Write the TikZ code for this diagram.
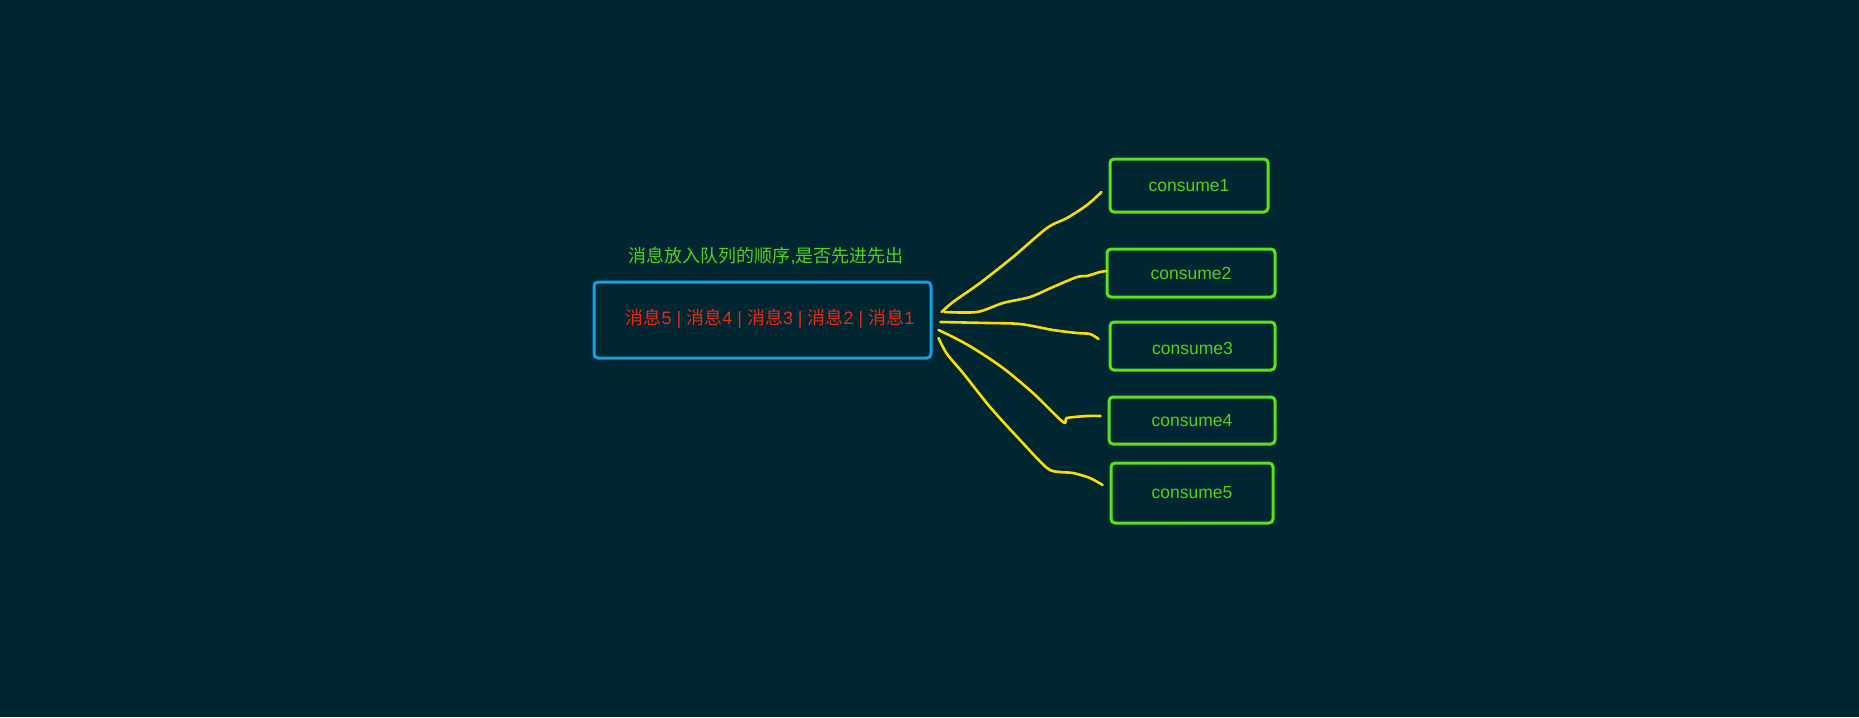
\documentclass[tikz,border=0pt]{standalone}
\usepackage{fontspec}
\setmainfont{Liberation Sans}
\newfontfamily\cjk{Noto Sans CJK SC}
\definecolor{bgc}{RGB}{0,38,50}
\definecolor{gline}{RGB}{88,228,22}
\definecolor{gtext}{RGB}{84,210,28}
\definecolor{rtext}{RGB}{232,42,20}
\definecolor{bline}{RGB}{20,160,225}
\definecolor{yline}{RGB}{250,222,0}
\tikzset{
  qbox/.style={draw=bline, line width=3pt, rounded corners=4pt, inner sep=0pt},
  cbox/.style={draw=gline, line width=3pt, rounded corners=4pt, inner sep=0pt, text=gtext, font=\fontsize{17.5}{20}\selectfont},
  wire/.style={draw=yline, line width=2.6pt, line cap=round, line join=round},
  lbl/.style={inner sep=0pt, font=\fontsize{18}{21}\selectfont}
}
\begin{document}
\begin{tikzpicture}[x=1pt,y=-1pt]
\fill[bgc] (0,0) rectangle (1859,717);
\useasboundingbox (0,0) rectangle (1859,717);
% main queue box
\node[qbox, minimum width=337pt, minimum height=76pt] (q) at (762.5,320) {};
\node[lbl, text=rtext] (qt) at (770,319) {{\cjk 消息}5 | {\cjk 消息}4 | {\cjk 消息}3 | {\cjk 消息}2 | {\cjk 消息}1};
\node[lbl, text=gtext] (title) at (766,256) {{\cjk 消息放入队列的顺序}{,}{\cjk 是否先进先出}};
% consumers
\node[cbox, minimum width=158pt, minimum height=53pt] (c1) at (1189,185.5) {consume1};
\node[cbox, minimum width=168pt, minimum height=48pt] (c2) at (1191,273) {consume2};
\node[cbox, minimum width=165pt, minimum height=48pt, text depth=0pt] (c3) at (1192.5,346) {\raisebox{-4pt}{consume3}};
\node[cbox, minimum width=166pt, minimum height=47pt] (c4) at (1192,420.5) {consume4};
\node[cbox, minimum width=162pt, minimum height=60pt] (c5) at (1192,493) {consume5};
% endpoints
\coordinate (s1) at ([xshift=9pt,yshift=8pt]q.east);
\coordinate (e1) at ([xshift=-7pt,yshift=-6.5pt]c1.west);
\coordinate (s2) at ([xshift=12pt,yshift=8pt]q.east);
\coordinate (e2) at ([xshift=1pt,yshift=2pt]c2.west);
\coordinate (s3) at ([xshift=8pt,yshift=-2pt]q.east);
\coordinate (e3) at ([xshift=-10pt,yshift=7pt]c3.west);
\coordinate (s4) at ([xshift=6pt,yshift=-10pt]q.east);
\coordinate (e4) at ([xshift=-7pt,yshift=4.5pt]c4.west);
\coordinate (s5) at ([xshift=6pt,yshift=-18pt]q.east);
\coordinate (e5) at ([xshift=-7pt,yshift=8pt]c5.west);
% hand-drawn wires
\draw[wire] plot[smooth, tension=0.5] coordinates {(s1) (953,302) (980,283) (1013,257) (1047,228) (1067,218) (1087,205) (e1)};
\draw[wire] plot[smooth, tension=0.5] coordinates {(s2) (977,312) (1003,303) (1030,297) (1053,287) (1077,277) (1087,276) (1100,272) (e2)};
\draw[wire] plot[smooth, tension=0.5] coordinates {(s3) (987,323) (1020,324) (1053,330) (1077,333) (1090,334) (e3)};
\draw[wire] plot[smooth, tension=0.5] coordinates {(s4) (953,337) (973,348) (1003,368) (1033,393) (1063,422) (1067,418) (1087,416) (e4)};
\draw[wire] plot[smooth, tension=0.5] coordinates {(s5) (947,354) (963,373) (990,407) (1020,440) (1047,468) (1060,472) (1073,473) (1090,478) (e5)};
\end{tikzpicture}
\end{document}
